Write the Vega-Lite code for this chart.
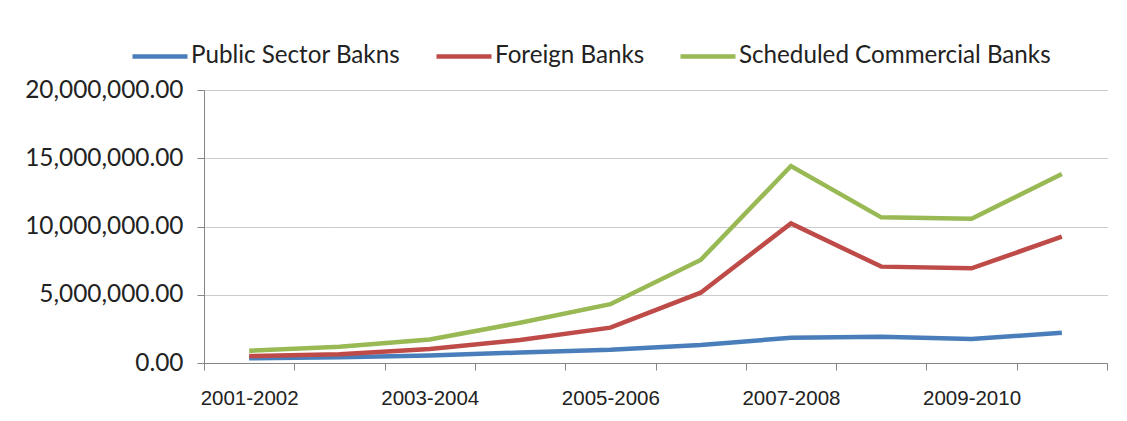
{
  "$schema": "https://vega.github.io/schema/vega-lite/v6.json",
  "width": 903,
  "height": 273,
  "autosize": {"type": "none"},
  "padding": {"left": 204, "top": 90, "right": 20, "bottom": 58},
  "background": "white",
  "data": {
    "values": [
      {"year": "2001-2002", "series": "Public Sector Bakns", "value": 340000},
      {"year": "2002-2003", "series": "Public Sector Bakns", "value": 420000},
      {"year": "2003-2004", "series": "Public Sector Bakns", "value": 550000},
      {"year": "2004-2005", "series": "Public Sector Bakns", "value": 770000},
      {"year": "2005-2006", "series": "Public Sector Bakns", "value": 970000},
      {"year": "2006-2007", "series": "Public Sector Bakns", "value": 1320000},
      {"year": "2007-2008", "series": "Public Sector Bakns", "value": 1850000},
      {"year": "2008-2009", "series": "Public Sector Bakns", "value": 1930000},
      {"year": "2009-2010", "series": "Public Sector Bakns", "value": 1760000},
      {"year": "2010-2011", "series": "Public Sector Bakns", "value": 2220000},
      {"year": "2001-2002", "series": "Foreign Banks", "value": 510000},
      {"year": "2002-2003", "series": "Foreign Banks", "value": 640000},
      {"year": "2003-2004", "series": "Foreign Banks", "value": 1020000},
      {"year": "2004-2005", "series": "Foreign Banks", "value": 1680000},
      {"year": "2005-2006", "series": "Foreign Banks", "value": 2590000},
      {"year": "2006-2007", "series": "Foreign Banks", "value": 5150000},
      {"year": "2007-2008", "series": "Foreign Banks", "value": 10230000},
      {"year": "2008-2009", "series": "Foreign Banks", "value": 7060000},
      {"year": "2009-2010", "series": "Foreign Banks", "value": 6940000},
      {"year": "2010-2011", "series": "Foreign Banks", "value": 9250000},
      {"year": "2001-2002", "series": "Scheduled Commercial Banks", "value": 900000},
      {"year": "2002-2003", "series": "Scheduled Commercial Banks", "value": 1190000},
      {"year": "2003-2004", "series": "Scheduled Commercial Banks", "value": 1720000},
      {"year": "2004-2005", "series": "Scheduled Commercial Banks", "value": 2950000},
      {"year": "2005-2006", "series": "Scheduled Commercial Banks", "value": 4310000},
      {"year": "2006-2007", "series": "Scheduled Commercial Banks", "value": 7550000},
      {"year": "2007-2008", "series": "Scheduled Commercial Banks", "value": 14430000},
      {"year": "2008-2009", "series": "Scheduled Commercial Banks", "value": 10670000},
      {"year": "2009-2010", "series": "Scheduled Commercial Banks", "value": 10570000},
      {"year": "2010-2011", "series": "Scheduled Commercial Banks", "value": 13850000}
    ]
  },
  "mark": {"type": "line", "strokeWidth": 4.5, "strokeJoin": "miter"},
  "encoding": {
    "x": {
      "field": "year",
      "type": "ordinal",
      "bandPosition": 0.5,
      "scale": {"type": "band", "paddingInner": 0, "paddingOuter": 0},
      "axis": {
        "title": null,
        "tickBand": "extent",
        "labelAngle": 0,
        "labelOverlap": false,
        "labelExpr": "indexof(['2001-2002','2003-2004','2005-2006','2007-2008','2009-2010'], datum.value) >= 0 ? datum.value : ''",
        "labelFont": "Liberation Sans",
        "labelFontSize": 20.5,
        "labelColor": "#222222",
        "labelPadding": 18,
        "tickSize": 7,
        "tickColor": "#868686",
        "domainColor": "#868686",
        "grid": false
      }
    },
    "y": {
      "field": "value",
      "type": "quantitative",
      "scale": {"domain": [0, 20000000], "nice": false},
      "axis": {
        "title": null,
        "values": [0, 5000000, 10000000, 15000000, 20000000],
        "format": ",.2f",
        "labelFont": "Lato",
        "labelFontSize": 24.4,
        "labelColor": "#222222",
        "labelPadding": 14,
        "tickSize": 7,
        "tickColor": "#868686",
        "domainColor": "#868686",
        "grid": true,
        "gridColor": "#999999",
        "gridDash": [1, 1],
        "gridWidth": 1
      }
    },
    "color": {
      "field": "series",
      "type": "nominal",
      "scale": {
        "domain": ["Public Sector Bakns", "Foreign Banks", "Scheduled Commercial Banks"],
        "range": ["#4A7EBB", "#BE4B48", "#98B954"]
      },
      "legend": {
        "title": null,
        "orient": "none",
        "direction": "horizontal",
        "legendX": -74,
        "legendY": -64,
        "padding": 0,
        "symbolType": "stroke",
        "symbolSize": 3025,
        "symbolStrokeWidth": 4.5,
        "labelFont": "Lato",
        "labelFontSize": 24.2,
        "labelLimit": 500,
        "labelColor": "#222222",
        "labelOffset": 1,
        "columnPadding": 26
      }
    }
  },
  "config": {"view": {"stroke": null}}
}
